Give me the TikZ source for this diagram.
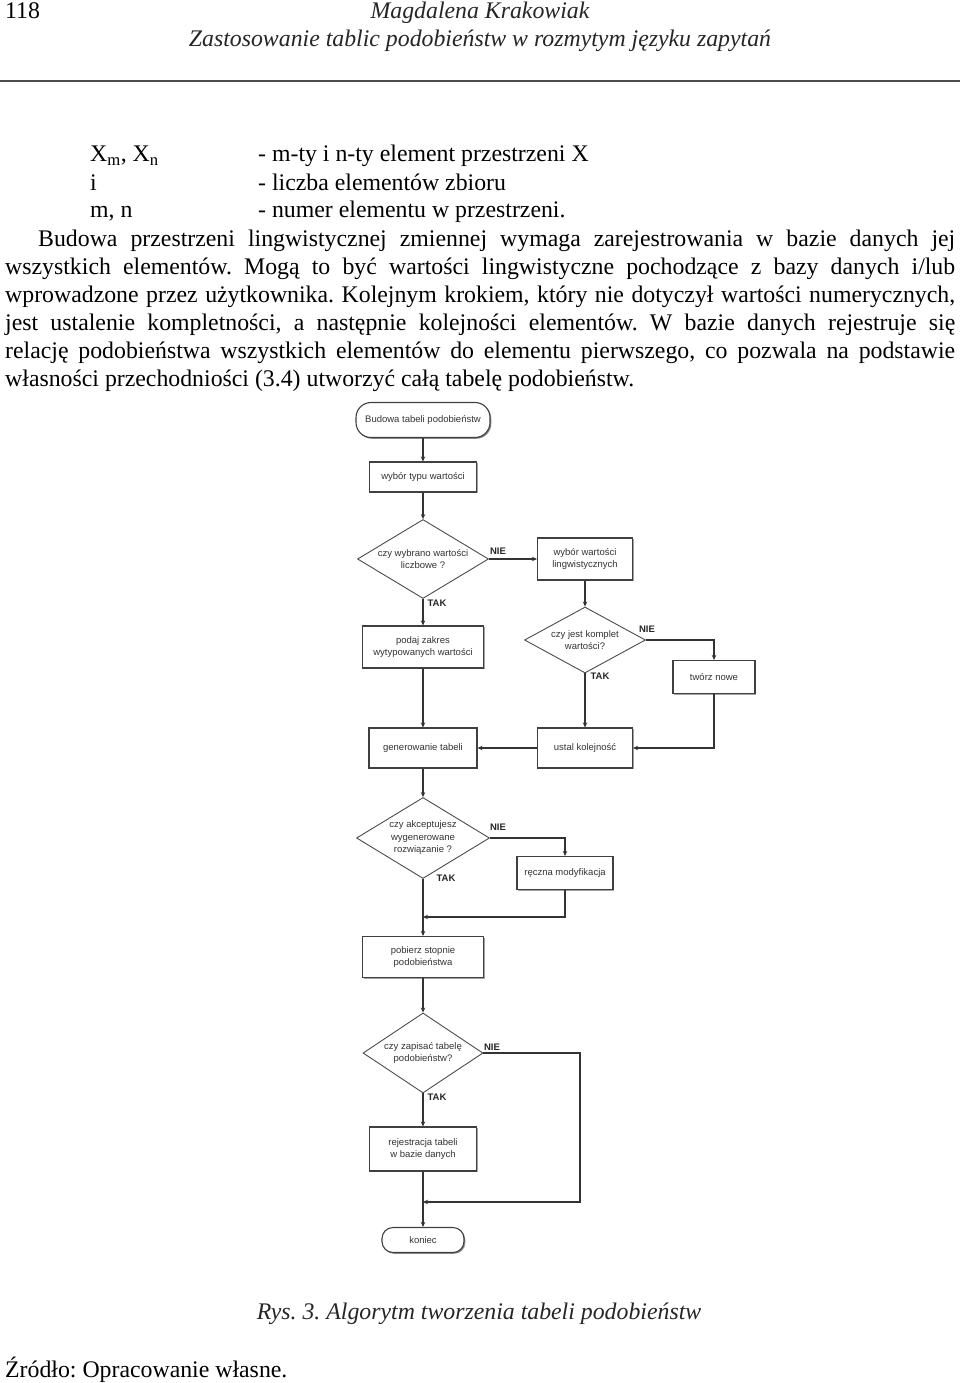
\documentclass[tikz,border=0pt]{standalone}
\usepackage{fontspec}
\setmainfont{Liberation Serif}
\newfontfamily\flowfont{Liberation Sans}
\usetikzlibrary{shapes.geometric,arrows.meta,shadows}
\begin{document}
\frenchspacing
\begin{tikzpicture}[x=1pt,y=-1pt,
  body/.style={inner sep=0pt, font=\fontsize{23.8}{28}\selectfont\frenchspacing, text=black},
  ital/.style={inner sep=0pt, font=\fontsize{23.8}{28}\selectfont\itshape, text=black!85},
  ln/.style={draw=black!80, line width=1.3pt},
  arr/.style={ln, -{Stealth[length=5pt,width=4.5pt]}},
  ftext/.style={font=\flowfont\fontsize{9.5}{12.5}\selectfont, text=black!80, align=center},
  box/.style={rectangle, draw=black!75, line width=1.1pt, fill=white, inner sep=1pt, ftext,
    drop shadow={shadow xshift=1.3pt, shadow yshift=-1.3pt, fill=black!60, opacity=.6}},
  term/.style={box, drop shadow={shadow xshift=1pt, shadow yshift=-1pt, fill=black!60, opacity=.5}},
  dia/.style={diamond, draw=black!70, line width=0.9pt, fill=white, inner sep=0pt},
  lab/.style={font=\flowfont\bfseries\fontsize{9.5}{10}\selectfont, inner sep=0pt, text=black!85}
]
\useasboundingbox (0,0) rectangle (960,1383);
\fill[white] (0,0) rectangle (960,1383);

% header
\node[body, anchor=base west] (pg) at (5,19) {118};
\node[ital, anchor=base] (auth) at (480,19) {Magdalena Krakowiak};
\node[ital, anchor=base] (ttl) at (480,47) {Zastosowanie tablic podobieństw w rozmytym języku zapytań};
\draw[draw=black!70, line width=1.4pt] (0,81) -- (960,81);

% definitions
\node[body, anchor=base west] (a1) at (90,162) {X\textsubscript{m}, X\textsubscript{n}};
\node[body, anchor=base west] (b1) at (258,162) {- m-ty i n-ty element przestrzeni X};
\node[body, anchor=base west] (a2) at (90,190) {i};
\node[body, anchor=base west] (b2) at (258,190) {- liczba elementów zbioru};
\node[body, anchor=base west] (a3) at (90,218) {m, n};
\node[body, anchor=base west] (b3) at (258,218) {- numer elementu w przestrzeni.};

% paragraph
\node[body, anchor=base west] (p1) at (38,246) {\makebox[917pt][s]{Budowa przestrzeni lingwistycznej zmiennej wymaga zarejestrowania w bazie danych jej}};
\node[body, anchor=base west] (p2) at (5,274) {\makebox[950pt][s]{wszystkich elementów. Mogą to być wartości lingwistyczne pochodzące z bazy danych i/lub}};
\node[body, anchor=base west] (p3) at (5,302) {\makebox[950pt][s]{wprowadzone przez użytkownika. Kolejnym krokiem, który nie dotyczył wartości numerycznych,}};
\node[body, anchor=base west] (p4) at (5,330) {\makebox[950pt][s]{jest ustalenie kompletności, a następnie kolejności elementów. W bazie danych rejestruje się}};
\node[body, anchor=base west] (p5) at (5,358) {\makebox[950pt][s]{relację podobieństwa wszystkich elementów do elementu pierwszego, co pozwala na podstawie}};
\node[body, anchor=base west] (p6) at (5,386) {własności przechodniości (3.4) utworzyć całą tabelę podobieństw.};

% flowchart nodes
\node[term, rounded corners=15pt, minimum width=134pt, minimum height=35pt] (start) at (423,420) {Budowa tabeli podobieństw};
\node[box, minimum width=107pt, minimum height=30pt] (typ) at (423,477) {wybór typu wartości};
\node[dia, minimum width=131pt, minimum height=79pt,
  label={[ftext]center:czy wybrano wartości\\liczbowe ?}] (d1) at (423,559) {};
\node[box, minimum width=95pt, minimum height=42pt] (ling) at (585,559) {wybór wartości\\lingwistycznych};
\node[box, minimum width=121pt, minimum height=42pt] (zakres) at (423,647) {podaj zakres\\wytypowanych wartości};
\node[dia, minimum width=121pt, minimum height=66pt,
  label={[ftext]center:czy jest komplet\\wartości?}] (d2) at (585,640) {};
\node[box, minimum width=82pt, minimum height=33pt] (nowe) at (714,677) {twórz nowe};
\node[box, minimum width=95pt, minimum height=40pt] (ustal) at (585,748) {ustal kolejność};
\node[box, minimum width=108pt, minimum height=40pt] (gen) at (423,748) {generowanie tabeli};
\node[dia, minimum width=133pt, minimum height=81pt,
  label={[ftext]center:czy akceptujesz\\wygenerowane\\rozwiązanie ?}] (d3) at (423,838) {};
\node[box, minimum width=96pt, minimum height=33pt] (reczna) at (565,873) {ręczna modyfikacja};
\node[box, minimum width=121pt, minimum height=41pt] (stopnie) at (423,957) {pobierz stopnie\\podobieństwa};
\node[dia, minimum width=120pt, minimum height=80pt,
  label={[ftext]center:czy zapisać tabelę\\podobieństw?}] (d4) at (423,1053) {};
\node[box, minimum width=107pt, minimum height=44pt] (rej) at (423,1149) {rejestracja tabeli\\w bazie danych};
\node[term, rounded corners=11pt, minimum width=82pt, minimum height=25pt] (koniec) at (423,1240) {koniec};

\coordinate (m1) at (423,917);
\coordinate (c4) at (580,1053);
\coordinate (m2) at (423,1202);

% labels
\node[lab] (n1) at (498,551) {NIE};
\node[lab] (t1) at (437,603) {TAK};
\node[lab] (n2) at (647,629) {NIE};
\node[lab] (t2) at (600,676) {TAK};
\node[lab] (n3) at (498,827) {NIE};
\node[lab] (t3) at (446,878) {TAK};
\node[lab] (n4) at (492,1047) {NIE};
\node[lab] (t4) at (437,1097) {TAK};

% connectors
\draw[arr] (start.south) -- (typ.north);
\draw[arr] (typ.south) -- (d1.north);
\draw[arr] (d1.east) -- (ling.west);
\draw[arr] (d1.south) -- (zakres.north);
\draw[arr] (ling.south) -- (d2.north);
\draw[arr] (d2.east) -| (nowe.north);
\draw[arr] (d2.south) -- (ustal.north);
\draw[arr] (nowe.south) |- (ustal.east);
\draw[arr] (ustal.west) -- (gen.east);
\draw[arr] (zakres.south) -- (gen.north);
\draw[arr] (gen.south) -- (d3.north);
\draw[arr] (d3.east) -| (reczna.north);
\draw[arr] (d3.south) -- (stopnie.north);
\draw[arr] (reczna.south) |- (m1);
\draw[arr] (stopnie.south) -- (d4.north);
\draw[arr] (d4.south) -- (rej.north);
\draw[arr] (rej.south) -- (koniec.north);
\draw[arr] (d4.east) -- (c4) |- (m2);

% caption
\node[ital, anchor=base] (cap) at (479,1319) {Rys. 3. Algorytm tworzenia tabeli podobieństw};
\node[body, anchor=base west] (src) at (5,1377) {Źródło: Opracowanie własne.};
\end{tikzpicture}
\end{document}
